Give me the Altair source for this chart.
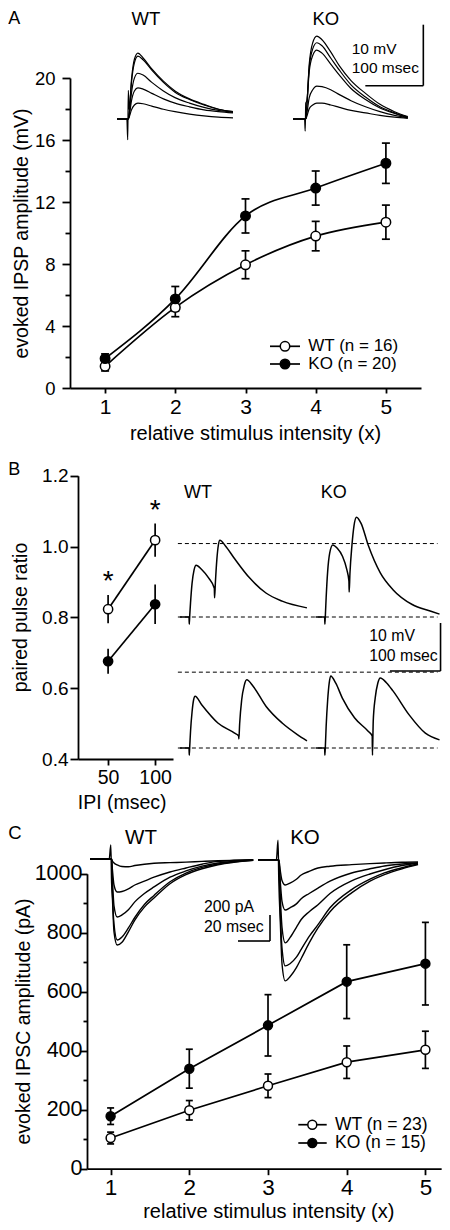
import altair as alt
import pandas as pd

FONT = "Liberation Sans"

# ================= Panel A : evoked IPSP amplitude =================
A_intensity = [1, 2, 3, 4, 5]
A_wt_mean = [1.4, 5.2, 7.95, 9.8, 10.7]
A_wt_sem = [0.3, 0.6, 0.9, 0.95, 1.1]
A_ko_mean = [1.9, 5.75, 11.1, 12.9, 14.5]
A_ko_sem = [0.3, 0.8, 1.1, 1.1, 1.3]
A_legend = ["WT (n = 16)", "KO (n = 20)"]
A_y_ticks = [0, 2, 4, 6, 8, 10, 12, 14, 16, 18, 20]

# example IPSP traces (time in msec, mV above baseline)
A_wt_trace_t = [0, 17, 18.5, 19.5, 21, 25, 30, 36, 45, 60, 80, 100, 125, 150, 175, 200]
A_wt_traces = [
    [0, 0, -3.4, 4.7, 1.5, 6.5, 9.8, 10.8, 10.0, 8.2, 6.2, 4.6, 3.3, 2.4, 1.6, 1.2],
    [0, 0, 0, 0, 1.0, 6.0, 9.2, 10.3, 9.7, 8.0, 6.0, 4.4, 3.2, 2.3, 1.6, 1.2],
    [0, 0, 0, 0, 0.8, 4.3, 6.7, 7.5, 7.2, 6.0, 4.6, 3.5, 2.6, 1.9, 1.4, 1.1],
    [0, 0, 0, 0, 0.5, 3.0, 4.6, 5.1, 4.9, 4.2, 3.3, 2.6, 2.0, 1.5, 1.2, 1.0],
    [0, 0, 0, 0, 0.3, 1.5, 2.3, 2.6, 2.5, 2.1, 1.6, 1.2, 0.8, 0.5, 0.3, 0.2],
]
A_ko_trace_t = [0, 20, 21, 22, 24, 28, 34, 41, 50, 65, 80, 100, 125, 150, 175, 198]
A_ko_traces = [
    [0, 0, -2.0, 2.6, 3.0, 9.0, 12.5, 13.6, 13.0, 11.0, 8.7, 6.3, 4.2, 2.4, 1.2, 0.4],
    [0, 0, 0, 0, 2.5, 8.5, 11.5, 12.5, 12.0, 10.0, 8.0, 5.6, 3.6, 2.0, 1.0, 0.3],
    [0, 0, 0, 0, 2.2, 7.8, 10.4, 11.3, 10.8, 9.0, 7.2, 5.0, 3.2, 1.8, 0.9, 0.2],
    [0, 0, 0, 0, 1.0, 3.5, 4.8, 5.4, 5.3, 4.8, 4.0, 3.0, 2.0, 1.2, 0.6, 0.2],
    [0, 0, 0, 0, 0.5, 1.7, 2.3, 2.6, 2.6, 2.3, 1.9, 1.4, 1.0, 0.6, 0.3, 0.1],
]
A_bar_ms, A_bar_mV = 100, 10

# ================= Panel B : paired pulse ratio =================
B_ipi = [50, 100]
B_wt_mean = [0.823, 1.018]
B_wt_sem = [0.04, 0.047]
B_ko_mean = [0.676, 0.837]
B_ko_sem = [0.035, 0.056]
B_y_ticks = [0.4, 0.6, 0.8, 1.0, 1.2]
B_x_ticks = [50, 100]

B_wt50_t = [0, 18, 18.5, 19.5, 21, 24, 28, 32, 43, 57, 68, 68.5, 70, 73, 76, 79, 90, 107, 138, 170, 202, 251]
B_wt50_v = [0, 0, -1.5, 0.5, 3.0, 7.0, 9.8, 10.8, 9.9, 8.1, 6.0, 4.0, 7.0, 12.0, 15.0, 16.0, 14.8, 12.3, 8.1, 5.0, 3.3, 1.9]
B_ko50_t = [0, 18, 18.5, 19.5, 21, 24, 28, 34, 43, 53, 62, 66, 66.5, 68, 72, 76, 81, 90, 104, 128, 153, 191, 228, 245]
B_ko50_v = [0, 0, -1.5, 0.5, 4.0, 9.5, 13.3, 15.0, 14.3, 12.7, 9.8, 7.5, 5.2, 9.0, 15.0, 19.0, 20.8, 19.5, 15.0, 9.2, 5.7, 2.6, 1.2, 0.6]
B_wt100_t = [0, 18, 18.5, 19.5, 21, 24, 27, 30, 43, 75, 108, 116, 116.5, 118, 122, 127, 132, 145, 170, 202, 232, 251]
B_wt100_v = [0, 0, -1.5, 0.5, 3.5, 7.5, 10.0, 10.8, 9.0, 5.2, 3.1, 2.5, 1.9, 5.0, 10.0, 13.0, 14.2, 12.8, 8.7, 5.2, 2.8, 1.5]
B_ko100_t = [0, 18, 18.5, 19.5, 21, 24, 27, 30, 40, 53, 77, 104, 112, 112.5, 114, 118, 123, 128, 140, 153, 185, 217, 245]
B_ko100_v = [0, 0, -1.5, 0.5, 4.5, 10.0, 13.5, 15.0, 13.5, 10.4, 6.3, 3.5, 2.5, -1.5, 5.5, 10.5, 13.5, 14.6, 13.6, 11.9, 6.9, 3.1, 1.7]
B_levels_top = [0, 15.3]
B_levels_bottom = [0, 15.8]
B_bar_ms, B_bar_mV = 100, 10

# ================= Panel C : evoked IPSC amplitude =================
C_intensity = [1, 2, 3, 4, 5]
C_wt_mean = [104, 198, 281, 361, 403]
C_wt_sem = [20, 33, 40, 55, 63]
C_ko_mean = [178, 339, 486, 634, 695]
C_ko_sem = [28, 66, 104, 125, 140]
C_legend = ["WT (n = 23)", "KO (n = 15)"]
C_y_ticks = [0, 100, 200, 300, 400, 500, 600, 700, 800, 900, 1000]

# example IPSC traces (time in msec, current in pA)
C_wt_trace_t = [0, 12, 13, 13.5, 14, 15, 17, 20, 24, 28, 34, 40, 50, 60, 70, 80, 90, 102]
C_wt_traces = [
    [0, 0, 108, -185, -300, -560, -662, -640, -560, -470, -370, -300, -190, -120, -75, -44, -25, -10],
    [0, 0, 0, 0, -250, -500, -623, -600, -530, -450, -350, -280, -175, -108, -65, -38, -22, -10],
    [0, 0, 0, 0, -150, -360, -446, -430, -390, -330, -265, -215, -140, -92, -55, -31, -18, -8],
    [0, 0, 0, 0, -80, -200, -254, -250, -230, -200, -170, -140, -100, -69, -40, -18, -12, -6],
    [0, 0, 0, 0, -15, -30, -45, -58, -60, -50, -40, -33, -28, -24, -18, -13, -10, -6],
]
C_ko_trace_t = [0, 11.5, 12.5, 13, 14, 15, 17, 20, 24, 27, 32, 37.5, 45, 58.5, 70, 79, 90, 100]
C_ko_traces = [
    [0, 0, 150, -160, -500, -800, -932, -900, -830, -760, -640, -525, -400, -255, -165, -115, -70, -38],
    [0, 0, 0, 0, -420, -680, -817, -800, -750, -690, -590, -500, -370, -230, -150, -102, -62, -33],
    [0, 0, 0, 0, -300, -520, -640, -600, -520, -460, -400, -346, -260, -163, -110, -77, -45, -25],
    [0, 0, 0, 0, -180, -320, -387, -370, -340, -300, -260, -218, -165, -102, -70, -48, -33, -25],
    [0, 0, 0, 0, -90, -160, -195, -180, -150, -118, -90, -64, -50, -38, -30, -25, -20, -18],
]
C_bar_ms, C_bar_pA = 20, 200

# ================= layout (one canvas, pixel frames) =================
W, H = 434, 1214
DX, DY = 3, 5


def px(x):
    return x - DX


def py(y):
    return y - DY


A_XR, A_YR = [px(65), px(416)], [py(385), py(75)]
B_XR, B_YR = [px(73), px(168)], [py(756), py(472.7)]
C_XR, C_YR = [px(82), px(82) + 4.5 * 78.7], [py(1165.7), py(870.7)]

FILL = alt.Scale(domain=["WT", "KO"], range=["white", "black"])


def stats_frame(x, wm, ws, km, ks):
    rows = []
    for g, m, s in (("WT", wm, ws), ("KO", km, ks)):
        for xv, mv, sv in zip(x, m, s):
            rows.append({"x": xv, "mean": mv, "lo": mv - sv, "hi": mv + sv, "group": g})
    return pd.DataFrame(rows)


def axis(**kw):
    base = dict(domainColor="black", domainWidth=1.8, tickColor="black", tickWidth=1.8,
                labelColor="black", titleColor="black", labelFont=FONT, titleFont=FONT,
                titleFontWeight="normal", grid=False, labelOverlap=False, labelFlush=False,
                titleBaseline="middle", titleAlign="center")
    base.update(kw)
    return alt.Axis(**base)


def data_layer(df, xscale, yscale, xaxis, yaxis, interp, cap, psize, lw=1.7, extra=()):
    base = alt.Chart(df)
    X = alt.X("x:Q", scale=xscale, axis=xaxis)
    Y = alt.Y("mean:Q", scale=yscale, axis=yaxis)
    layers = [
        base.mark_line(color="black", strokeWidth=lw, interpolate=interp).encode(x=X, y=Y, detail="group:N"),
        base.mark_rule(color="black", strokeWidth=lw).encode(x="x:Q", y="lo:Q", y2="hi:Q"),
    ]
    if cap:
        for f in ("lo", "hi"):
            layers.append(base.mark_rule(color="black", strokeWidth=lw, xOffset=-cap, x2Offset=cap)
                          .encode(x="x:Q", x2="x", y=f"{f}:Q"))
    layers.append(base.mark_point(shape="circle", filled=True, opacity=1, size=psize,
                                  stroke="black", strokeWidth=1.5)
                  .encode(x="x:Q", y="mean:Q", fill=alt.Fill("group:N", scale=FILL, legend=None)))
    layers.extend(extra)
    return alt.layer(*layers)


def trace_scales(t0, base, px_ms, px_unit):
    xs = alt.Scale(domain=[0, 100], range=[t0, t0 + 100 * px_ms], zero=False, nice=False)
    ys = alt.Scale(domain=[0, 10], range=[base, base - 10 * px_unit], zero=False, nice=False)
    return xs, ys


def trace_lines(traces, xs, ys, lw=1.2):
    rows = []
    for k, (ts, vs) in enumerate(traces):
        for tv, vv in zip(ts, vs):
            rows.append({"t": tv, "v": vv, "k": k})
    return alt.Chart(pd.DataFrame(rows)).mark_line(
        color="black", strokeWidth=lw, interpolate="monotone").encode(
        x=alt.X("t:Q", scale=xs, axis=None), y=alt.Y("v:Q", scale=ys, axis=None), detail="k:N")


def hrule(xs, ys, t_a, t_b, v, dash=None, lw=1.6):
    mk = dict(color="black", strokeWidth=lw)
    if dash:
        mk["strokeDash"] = dash
    return alt.Chart(pd.DataFrame({"t": [t_a], "t2": [t_b], "v": [v]})).mark_rule(**mk).encode(
        x=alt.X("t:Q", scale=xs, axis=None), x2="t2", y=alt.Y("v:Q", scale=ys, axis=None))


def vrule(xs, ys, t, v_a, v_b, lw=1.6):
    return alt.Chart(pd.DataFrame({"t": [t], "v": [v_a], "v2": [v_b]})).mark_rule(
        color="black", strokeWidth=lw).encode(
        x=alt.X("t:Q", scale=xs, axis=None), y=alt.Y("v:Q", scale=ys, axis=None), y2="v2")


def text(s, x, y, size, align="center"):
    return alt.Chart(pd.DataFrame({"s": [s]})).mark_text(
        align=align, baseline="middle", font=FONT, fontSize=size, color="black").encode(
        x=alt.value(x), y=alt.value(y), text="s:N")


def legend(labels, x0, x1, xc, xt, ys, psize, size):
    out = []
    for lab, fill, y in zip(labels, ["white", "black"], ys):
        d = alt.Chart(pd.DataFrame({"s": [lab]}))
        out.append(d.mark_rule(color="black", strokeWidth=1.7).encode(
            x=alt.value(x0), x2=alt.value(x1), y=alt.value(y)))
        out.append(d.mark_point(shape="circle", filled=True, opacity=1, fill=fill, stroke="black",
                                strokeWidth=1.5, size=psize).encode(x=alt.value(xc), y=alt.value(y)))
        out.append(d.mark_text(align="left", baseline="middle", font=FONT, fontSize=size,
                               color="black").encode(x=alt.value(xt), y=alt.value(y), text="s:N"))
    return out


# ================= Panel A =================
dfA = stats_frame(A_intensity, A_wt_mean, A_wt_sem, A_ko_mean, A_ko_sem)
mainA = data_layer(
    dfA,
    alt.Scale(domain=[0.5, 5.5], range=A_XR, nice=False, zero=False),
    alt.Scale(domain=[0, 20], range=A_YR, nice=False, zero=False),
    axis(orient="bottom", offset=A_YR[0] - H, values=A_intensity, format="d", tickSize=5,
         labelPadding=3, labelFontSize=21, title="relative stimulus intensity (x)",
         titleFontSize=20, titleX=px(250), titleY=45),
    axis(orient="left", offset=-A_XR[0], values=A_y_ticks, format="d",
         labelExpr="datum.value % 4 == 0 ? datum.label : ''",
         tickSize={"condition": {"test": "datum.value % 4 == 0", "value": 8}, "value": 5},
         labelPadding=7, labelFontSize=18.5,
         title="evoked IPSP amplitude (mV)", titleFontSize=19.5, titleAngle=270,
         titleX=px(16.7) - A_XR[0], titleY=py(230)),
    "monotone", cap=4, psize=90)

xsA1, ysA1 = trace_scales(px(112), py(116), 0.58, 6.1)
wtA = trace_lines([(A_wt_trace_t, v) for v in A_wt_traces], xsA1, ysA1)
xsA2, ysA2 = trace_scales(px(288), py(116), 0.58, 6.1)
koA = alt.layer(
    trace_lines([(A_ko_trace_t, v) for v in A_ko_traces], xsA2, ysA2),
    hrule(xsA2, ysA2, 224.7 - A_bar_ms, 224.7, 5.46),
    vrule(xsA2, ysA2, 224.7, 5.46, 5.46 + A_bar_mV),
)
textsA = [
    text("A", px(3.3), 11, 18, align="left"),
    text("WT", px(140.8), 11, 18.5),
    text("KO", px(320.8), 11, 18.5),
    text("10 mV", px(346.7), py(45.7), 15.5, align="left"),
    text("100 msec", px(346.7), py(65), 15.5, align="left"),
    *legend(A_legend, px(265), px(295), px(280), px(303.3), [py(343.3), py(361)], 90, 17),
]

# ================= Panel B =================
dfB = stats_frame(B_ipi, B_wt_mean, B_wt_sem, B_ko_mean, B_ko_sem)
stars = alt.Chart(dfB).transform_filter("datum.group == 'WT'").mark_text(
    text="*", font=FONT, fontSize=28, baseline="middle", dy=-13, color="black").encode(
    x="x:Q", y="hi:Q")
mainB = data_layer(
    dfB,
    alt.Scale(domain=[18, 119], range=B_XR, nice=False, zero=False),
    alt.Scale(domain=[0.4, 1.2], range=B_YR, nice=False, zero=False),
    axis(orient="bottom", offset=B_YR[0] - H, values=B_x_ticks, format="d", tickSize=6,
         labelPadding=3, labelFontSize=19.5, title="IPI (msec)", titleFontSize=19.5,
         titleX=px(116.7), titleY=43.5),
    axis(orient="left", offset=-B_XR[0], values=B_y_ticks, format=".1f", tickSize=8,
         labelPadding=2, labelFontSize=19, title="paired pulse ratio", titleFontSize=19.5,
         titleAngle=270, titleX=px(15) - B_XR[0], titleY=py(614)),
    "linear", cap=0, psize=85, extra=[stars])


def bx(x):
    # trace area of panel B is drawn slightly narrower so it fits the page
    return px(173 + (x - 173) * 0.955)


PXB_MS, PXB_MV = 0.53 * 0.955, 4.8
xsB1, ysB1 = trace_scales(bx(175), py(614), PXB_MS, PXB_MV)
wtB_top = alt.layer(
    trace_lines([(B_wt50_t, B_wt50_v)], xsB1, ysB1, lw=1.5),
    *[hrule(xsB1, ysB1, -4, 509, lv, dash=[4, 3], lw=1) for lv in B_levels_top],
)
xsB2, ysB2 = trace_scales(bx(317), py(614), PXB_MS, PXB_MV)
koB_top = alt.layer(
    trace_lines([(B_ko50_t, B_ko50_v)], xsB2, ysB2, lw=1.5),
    hrule(xsB2, ysB2, 247 - B_bar_ms, 247, -11.25),
    vrule(xsB2, ysB2, 247, -11.25, -11.25 + B_bar_mV),
)
xsB3, ysB3 = trace_scales(bx(175), py(745), PXB_MS, PXB_MV)
wtB_bot = alt.layer(
    trace_lines([(B_wt100_t, B_wt100_v)], xsB3, ysB3, lw=1.5),
    *[hrule(xsB3, ysB3, -4, 509, lv, dash=[4, 3], lw=1) for lv in B_levels_bottom],
)
xsB4, ysB4 = trace_scales(bx(317), py(745), PXB_MS, PXB_MV)
koB_bot = trace_lines([(B_ko100_t, B_ko100_v)], xsB4, ysB4, lw=1.5)
textsB = [
    text("B", px(3.3), py(466.7), 18, align="left"),
    text("WT", bx(194), py(490), 18),
    text("KO", bx(336), py(490), 18),
    text("10 mV", bx(373.3), py(633.3), 15.8, align="left"),
    text("100 msec", bx(373.3), py(653.3), 15.8, align="left"),
]

# ================= Panel C =================
dfC = stats_frame(C_intensity, C_wt_mean, C_wt_sem, C_ko_mean, C_ko_sem)
mainC = data_layer(
    dfC,
    alt.Scale(domain=[0.7, 5.2], range=C_XR, nice=False, zero=False),
    alt.Scale(domain=[0, 1000], range=C_YR, nice=False, zero=False),
    axis(orient="bottom", offset=C_YR[0] - H, values=C_intensity, format="d", tickSize=6,
         labelPadding=2, labelFontSize=22.5, title="relative stimulus intensity (x)",
         titleFontSize=20, titleX=px(263.3), titleY=42.5),
    axis(orient="left", offset=-C_XR[0], values=C_y_ticks, format="d",
         labelExpr="datum.value % 200 == 0 ? datum.label : ''",
         tickSize={"condition": {"test": "datum.value % 200 == 0", "value": 7}, "value": 4},
         labelPadding=-2, labelFontSize=21.5,
         title="evoked IPSC amplitude (pA)", titleFontSize=19.5, titleAngle=270,
         titleX=px(18.3) - C_XR[0], titleY=py(1018)),
    "linear", cap=3.5, psize=80)

xsC1, ysC1 = trace_scales(px(85), py(856), 1.6, 0.13)
wtC = alt.layer(
    trace_lines([(C_wt_trace_t, v) for v in C_wt_traces], xsC1, ysC1, lw=1.4),
    hrule(xsC1, ysC1, 112.5 - C_bar_ms, 112.5, -630.8),
    vrule(xsC1, ysC1, 112.5, -630.8, -630.8 + C_bar_pA),
)
xsC2, ysC2 = trace_scales(px(253), py(856.7), 1.6, 0.13)
koC = trace_lines([(C_ko_trace_t, v) for v in C_ko_traces], xsC2, ysC2, lw=1.4)
textsC = [
    text("C", px(3.3), py(830), 18.5, align="left"),
    text("WT", px(136), py(835), 20.5),
    text("KO", px(300), py(835), 20.5),
    text("200 pA", px(199), py(904), 15.8, align="left"),
    text("20 msec", px(199), py(924), 15.8, align="left"),
    *legend(C_legend, px(293.3), px(321.7), px(307.3), px(330), [py(1121.7), py(1140)], 80, 17.5),
]

chart = alt.layer(
    mainA, wtA, koA,
    mainB, wtB_top, koB_top, wtB_bot, koB_bot,
    mainC, wtC, koC,
    *textsA, *textsB, *textsC,
).resolve_scale(
    x="independent", y="independent", fill="independent"
).properties(
    width=W, height=H, padding=0, background="white",
    autosize=alt.AutoSizeParams(type="none"),
).configure_view(stroke=None)

chart.save("out.html", embed_options={"renderer": "svg", "actions": False})
